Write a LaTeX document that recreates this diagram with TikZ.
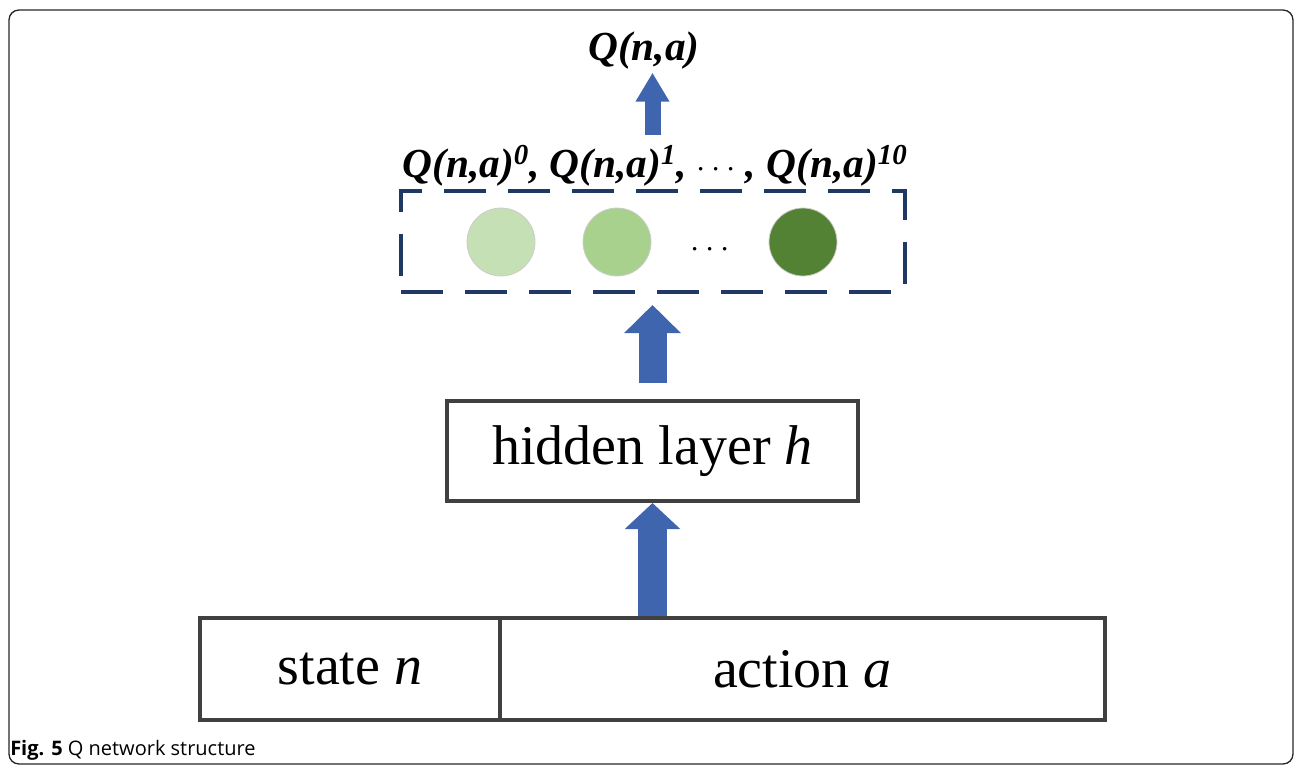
\documentclass[tikz,border=0pt]{standalone}
\usepackage{fontspec}
\setmainfont{Liberation Serif}
\newfontfamily\capfont{Open Sans}
\usetikzlibrary{arrows.meta,calc}

\definecolor{boxline}{RGB}{64,64,64}
\definecolor{navyline}{RGB}{31,56,100}
\definecolor{arrowblue}{RGB}{63,101,174}
\definecolor{greenA}{RGB}{197,224,180}
\definecolor{greenB}{RGB}{169,209,142}
\definecolor{greenC}{RGB}{84,130,53}

\tikzset{
  layerbox/.style={draw=boxline, line width=3pt, fill=white, inner sep=0pt,
    font=\fontsize{42}{50}\selectfont},
  qlabel/.style={inner sep=0pt, font=\fontsize{31}{38}\selectfont\bfseries\itshape},
  neuron/.style={circle, draw=black!20, line width=0.6pt, minimum size=51pt, inner sep=0pt},
  blockarrow/.style={draw=arrowblue, fill=arrowblue, line width=#1},
}

\begin{document}
\begin{tikzpicture}[x=0.75pt, y=-0.75pt]
  \useasboundingbox (0,0) rectangle (1295,767);

  % outer figure frame
  \draw[black!85, line width=1pt, rounded corners=7.5pt] (9,10) rectangle (1293,764);

  % input layer: state and action
  \node[layerbox, minimum width=225pt, minimum height=76.5pt] (state) at (350,669) {state \textit{n}};
  \node[layerbox, minimum width=453.75pt, minimum height=76.5pt] (action) at (802.5,669) {action \textit{a}};

  % hidden layer
  \node[layerbox, minimum width=308.25pt, minimum height=75pt] (hidden) at (652.5,451) {hidden layer \textit{h}};

  % output neurons in a dashed group
  \node[draw=navyline, line width=3pt, dash pattern=on 31.5pt off 16.5pt,
        minimum width=378pt, minimum height=75.75pt, inner sep=0pt] (qbox) at (653,241.5) {};
  \node[neuron, fill=greenA] (c0) at (501,242) {};
  \node[neuron, fill=greenB] (c1) at (617,242) {};
  \node[neuron, fill=greenC] (cn) at (803,242) {};
  \node[inner sep=0pt, font=\fontsize{33}{33}\selectfont] (dots) at (710,250) {$\cdots$};

  % labels of the outputs
  \node[qlabel, anchor=base] (qlist) at (655,177)
    {Q(n,a)\textsuperscript{0}, Q(n,a)\textsuperscript{1}, \textmd{\upshape$\cdots$} , Q(n,a)\textsuperscript{10}};
  \node[qlabel, anchor=base] (qout) at (644,61) {Q(n,a)};

  % flow arrows
  \draw[blockarrow=21.75pt, -{Triangle[width=40.5pt, length=19.5pt]}]
    (action.north -| hidden.south) -- (hidden.south);
  \draw[blockarrow=21pt, -{Triangle[width=41.25pt, length=21pt]},
        shorten <=12pt, shorten >=8.25pt]
    (hidden.north) -- (qbox.south -| hidden.north);
  \draw[blockarrow=12pt, -{Triangle[width=24pt, length=21.75pt]},
        shorten <=8pt, shorten >=2pt]
    (qlist.north -| hidden.north) -- (qout.south -| hidden.north);

  % caption
  \node[anchor=base west, inner sep=0pt, font=\capfont\fontsize{15}{18}\selectfont] (caption)
    at (10,755) {\textbf{Fig. 5} Q network structure};
\end{tikzpicture}
\end{document}
